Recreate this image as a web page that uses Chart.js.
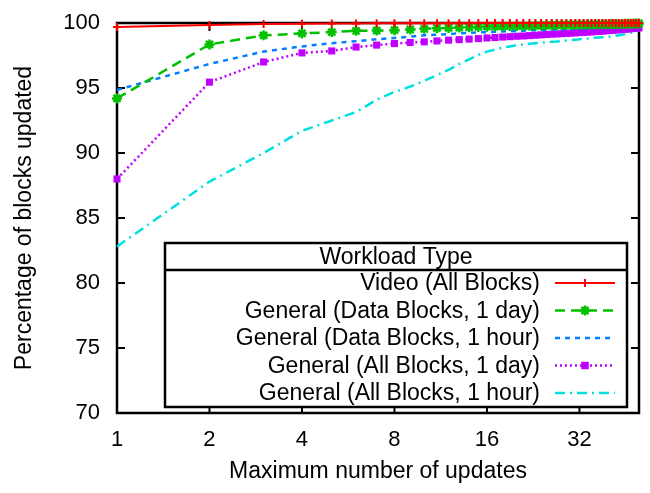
<!DOCTYPE html>
<html>
<head>
<meta charset="utf-8">
<script src="https://cdn.jsdelivr.net/npm/chart.js@4.4.0/dist/chart.umd.min.js"></script>
<style>
  html, body { margin: 0; padding: 0; background: #fff; }
</style>
</head>
<body>
<canvas id="chart" width="650" height="493"></canvas>
<script>
// x = maximum number of updates (1..50)
const updates = [1,2,3,4,5,6,7,8,9,10,11,12,13,14,15,16,17,18,19,20,21,22,23,24,25,26,27,28,29,30,31,32,33,34,35,36,37,38,39,40,41,42,43,44,45,46,47,48,49,50];
const xTicks = [1, 2, 4, 8, 16, 32];

const video = [99.7,99.85,99.92,99.95,99.96,99.97,99.98,99.98,99.98,99.99,99.99,99.99,99.99,99.99,100,100,100,100,100,100,100,100,100,100,100,100,100,100,100,100,100,100,100,100,100,100,100,100,100,100,100,100,100,100,100,100,100,100,100,100];
const dataDay = [94.2,98.35,99.05,99.2,99.3,99.4,99.42,99.45,99.5,99.55,99.6,99.62,99.65,99.67,99.7,99.72,99.73,99.75,99.76,99.77,99.78,99.79,99.8,99.81,99.82,99.83,99.84,99.85,99.86,99.86,99.87,99.87,99.88,99.88,99.89,99.89,99.9,99.9,99.91,99.91,99.92,99.92,99.93,99.93,99.94,99.94,99.95,99.95,99.96,99.96];
const dataHour = [94.85,96.85,97.8,98.2,98.45,98.6,98.75,98.85,98.95,99.05,99.1,99.15,99.2,99.25,99.28,99.3,99.33,99.35,99.37,99.39,99.41,99.43,99.45,99.47,99.48,99.5,99.51,99.52,99.53,99.55,99.56,99.57,99.58,99.59,99.6,99.61,99.62,99.63,99.64,99.65,99.66,99.67,99.68,99.69,99.7,99.71,99.72,99.73,99.74,99.75];
const allDay = [88.0,95.45,97.0,97.7,97.85,98.15,98.3,98.42,98.5,98.55,98.62,98.68,98.72,98.76,98.8,98.85,98.88,98.92,98.95,98.98,99.0,99.03,99.06,99.09,99.12,99.14,99.16,99.18,99.2,99.22,99.24,99.26,99.28,99.3,99.32,99.34,99.36,99.38,99.4,99.42,99.44,99.46,99.48,99.5,99.52,99.54,99.56,99.58,99.6,99.62];
const allHour = [82.8,87.8,90.0,91.7,92.5,93.15,94.1,94.7,95.1,95.55,96.0,96.4,96.85,97.2,97.55,97.8,97.95,98.1,98.2,98.3,98.35,98.4,98.45,98.48,98.52,98.55,98.58,98.62,98.65,98.68,98.72,98.75,98.78,98.8,98.83,98.86,98.88,98.9,98.92,98.95,98.98,99.02,99.06,99.1,99.15,99.2,99.25,99.3,99.35,99.42];

const FONT = 'Liberation Sans, Arial, Helvetica, sans-serif';

const pts = arr => arr.map((v, i) => ({ x: updates[i], y: v }));

const datasets = [
  { label: 'Video (All Blocks)', data: pts(video), borderColor: '#ff0000', backgroundColor: '#ff0000',
    borderWidth: 2, pointStyle: 'cross', pointRadius: 4, pointBorderWidth: 2 },
  { label: 'General (Data Blocks, 1 day)', data: pts(dataDay), borderColor: '#00c000', backgroundColor: '#00c000',
    borderWidth: 2.5, borderDash: [10, 6], pointStyle: 'star', pointRadius: 5, pointBorderWidth: 2.5 },
  { label: 'General (Data Blocks, 1 hour)', data: pts(dataHour), borderColor: '#0080ff', backgroundColor: '#0080ff',
    borderWidth: 2.5, borderDash: [5, 5], pointRadius: 0 },
  { label: 'General (All Blocks, 1 day)', data: pts(allDay), borderColor: '#c000ff', backgroundColor: '#c000ff',
    borderWidth: 2.5, borderDash: [2, 3], pointStyle: 'rect', pointRadius: 5, pointBorderWidth: 0 },
  { label: 'General (All Blocks, 1 hour)', data: pts(allHour), borderColor: '#00e0e0', backgroundColor: '#00e0e0',
    borderWidth: 2.5, borderDash: [10, 5, 2, 5], pointRadius: 0 }
];

// box round the plot, with ticks pointing inward on all four sides
const framePlugin = {
  id: 'frame',
  beforeDatasetsDraw(chart) {
    const { ctx, chartArea: a, scales: { x, y } } = chart;
    ctx.save();
    ctx.strokeStyle = '#000';
    ctx.lineWidth = 2;
    ctx.beginPath();
    x.ticks.forEach(t => {
      const px = x.getPixelForValue(t.value);
      ctx.moveTo(px, a.bottom); ctx.lineTo(px, a.bottom - 8);
      ctx.moveTo(px, a.top); ctx.lineTo(px, a.top + 8);
    });
    y.ticks.forEach(t => {
      const py = y.getPixelForValue(t.value);
      ctx.moveTo(a.left, py); ctx.lineTo(a.left + 8, py);
      ctx.moveTo(a.right, py); ctx.lineTo(a.right - 8, py);
    });
    ctx.stroke();
    ctx.lineWidth = 2.5;
    ctx.strokeRect(a.left, a.top, a.width, a.height);
    ctx.restore();
  }
};

function marker(ctx, style, cx, cy, r) {
  ctx.beginPath();
  if (style === 'cross' || style === 'star') {
    ctx.moveTo(cx, cy - r); ctx.lineTo(cx, cy + r);
    ctx.moveTo(cx - r, cy); ctx.lineTo(cx + r, cy);
  }
  if (style === 'star') {
    const d = r * 0.707;
    ctx.moveTo(cx - d, cy - d); ctx.lineTo(cx + d, cy + d);
    ctx.moveTo(cx - d, cy + d); ctx.lineTo(cx + d, cy - d);
  }
  ctx.stroke();
  if (style === 'rect') ctx.fillRect(cx - r * 0.75, cy - r * 0.75, r * 1.5, r * 1.5);
}

// gnuplot style key box in the lower right of the plot
const keyPlugin = {
  id: 'key',
  afterDraw(chart) {
    const { ctx, chartArea: a } = chart;
    const right = a.right - 12, bottom = a.bottom - 6;
    const left = a.left + 48, top = bottom - 164;
    const headH = 27, rowH = 27.5;
    ctx.save();
    ctx.fillStyle = '#fff';
    ctx.fillRect(left, top, right - left, bottom - top);
    ctx.strokeStyle = '#000';
    ctx.lineWidth = 2.5;
    ctx.strokeRect(left, top, right - left, bottom - top);
    ctx.beginPath();
    ctx.moveTo(left, top + headH); ctx.lineTo(right, top + headH);
    ctx.stroke();

    ctx.fillStyle = '#000';
    ctx.font = '23px ' + FONT;
    ctx.textBaseline = 'middle';
    ctx.textAlign = 'center';
    ctx.fillText('Workload Type', (left + right) / 2, top + headH / 2 + 1);

    const textX = right - 87, s0 = right - 72, s1 = right - 12;
    chart.data.datasets.forEach((ds, i) => {
      const cy = top + headH + 13 + i * rowH;
      ctx.fillStyle = '#000';
      ctx.textAlign = 'right';
      ctx.fillText(ds.label, textX, cy + 1);
      ctx.strokeStyle = ds.borderColor;
      ctx.fillStyle = ds.backgroundColor;
      ctx.lineWidth = ds.borderWidth;
      ctx.setLineDash(ds.borderDash || []);
      ctx.beginPath();
      ctx.moveTo(s0, cy); ctx.lineTo(s1, cy);
      ctx.stroke();
      ctx.setLineDash([]);
      if (ds.pointRadius > 0) {
        ctx.lineWidth = ds.pointBorderWidth || 2;
        marker(ctx, ds.pointStyle, (s0 + s1) / 2, cy, ds.pointRadius);
      }
    });
    ctx.restore();
  }
};

new Chart(document.getElementById('chart').getContext('2d'), {
  type: 'line',
  data: { datasets },
  options: {
    responsive: false,
    animation: false,
    clip: false,
    layout: { padding: { top: 23, right: 11, left: 0, bottom: 0 } },
    plugins: { legend: { display: false }, tooltip: { enabled: false } },
    elements: { line: { tension: 0, fill: false } },
    scales: {
      x: {
        type: 'logarithmic',
        min: 1,
        max: 50,
        afterBuildTicks: s => { s.ticks = xTicks.map(v => ({ value: v })); },
        afterFit: s => { s.height = 80; },
        grid: { display: false },
        border: { display: false },
        ticks: { color: '#000', font: { family: FONT, size: 22 }, padding: 6, maxRotation: 0, autoSkip: false,
                 callback: v => String(v) },
        title: { display: true, text: 'Maximum number of updates', color: '#000',
                 font: { family: FONT, size: 23 }, padding: { top: 0, bottom: 8 } }
      },
      y: {
        min: 70,
        max: 100,
        afterFit: s => { s.width = 117; },
        grid: { display: false },
        border: { display: false },
        ticks: { stepSize: 5, color: '#000', font: { family: FONT, size: 22 }, padding: 9 },
        title: { display: true, text: 'Percentage of blocks updated', color: '#000',
                 font: { family: FONT, size: 23 }, padding: { top: 11, bottom: 0 } }
      }
    }
  },
  plugins: [framePlugin, keyPlugin]
});
</script>
</body>
</html>
